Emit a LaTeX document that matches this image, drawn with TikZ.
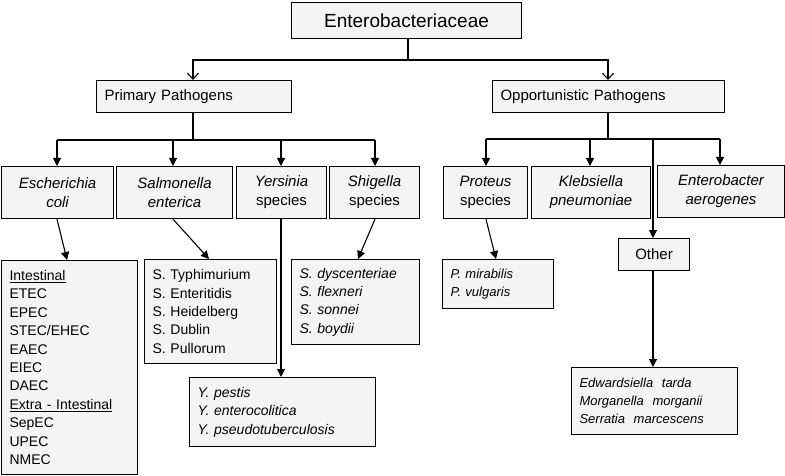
\documentclass[tikz,border=0pt]{standalone}
\usepackage{fontspec}
\setmainfont{Liberation Sans}
\usetikzlibrary{arrows.meta}
\begin{document}
\begin{tikzpicture}[x=1pt,y=-1pt,
  bx/.style={draw=black,line width=1.1pt,fill=gray!9,inner sep=0pt,anchor=north west,font=\fontsize{15}{19}\selectfont,align=center},
  lst/.style={bx,align=left,font=\fontsize{14}{18.4}\selectfont},
  fa/.style={-{Triangle[length=8pt,width=8pt]},line width=1.1pt},
  oa/.style={-{Straight Barb[length=6pt,width=11pt]},line width=1.1pt}]
\useasboundingbox (0,0) rectangle (785,476);
\newcommand{\bxat}[6]{\node[#1,minimum width=#4-#2,minimum height=#5-#3,text width=#4-#2-16] (#6) at (#2,#3) {};}
% main boxes
\node[bx,minimum width=230,minimum height=36,font=\fontsize{19}{22}\selectfont] (ent) at (291,2) {Enterobacteriaceae};
\node[bx,minimum width=195,minimum height=32,text width=179,align=left] (pp) at (96,80) {Primary Pathogens};
\node[bx,minimum width=232,minimum height=32,text width=216,align=left] (op) at (492,80) {Opportunistic Pathogens};
% second row
\node[bx,minimum width=112,minimum height=52] (ec) at (1,166) {\itshape Escherichia\\\itshape coli};
\node[bx,minimum width=116,minimum height=52] (sa) at (116,166) {\itshape Salmonella\\\itshape enterica};
\node[bx,minimum width=90,minimum height=52] (ye) at (236,166) {\itshape Yersinia\\species};
\node[bx,minimum width=90,minimum height=52] (sh) at (329,166) {\itshape Shigella\\species};
\node[bx,minimum width=84,minimum height=52] (pr) at (443,166) {\itshape Proteus\\species};
\node[bx,minimum width=119,minimum height=52] (kl) at (531,166) {\itshape Klebsiella\\\itshape pneumoniae};
\node[bx,minimum width=127,minimum height=52] (en) at (657,165) {\itshape Enterobacter\\\itshape aerogenes};
\node[bx,minimum width=71,minimum height=32] (ot) at (618,238) {Other};
% lists
\node[lst,minimum width=132,minimum height=214,text width=120,inner xsep=8pt] (ecl) at (1,260) {\underline{Intestinal}\\ETEC\\EPEC\\STEC/EHEC\\EAEC\\EIEC\\DAEC\\\underline{Extra - Intestinal}\\SepEC\\UPEC\\NMEC};
\node[lst,minimum width=130,minimum height=104,text width=116,inner xsep=8pt] (sal) at (144,259) {S. Typhimurium\\S. Enteritidis\\S. Heidelberg\\S. Dublin\\S. Pullorum};
\node[lst,minimum width=185,minimum height=69,text width=170,inner xsep=8pt,font=\fontsize{14}{18.4}\selectfont\itshape] (yel) at (189,377) {Y. pestis\\Y. enterocolitica\\Y. pseudotuberculosis};
\node[lst,minimum width=123,minimum height=85,text width=112,inner xsep=8pt,font=\fontsize{14}{18.4}\selectfont\itshape] (shl) at (291,259) {S. dyscenteriae\\S. flexneri\\S. sonnei\\S. boydii};
\node[lst,minimum width=107,minimum height=49,text width=95,inner xsep=8pt,font=\fontsize{13}{18}\selectfont\itshape] (prl) at (442,259) {P. mirabilis\\P. vulgaris};
\node[lst,minimum width=164,minimum height=67,text width=150,inner xsep=8pt,font=\fontsize{13}{18}\selectfont\itshape] (otl) at (571,367) {Edwardsiella\ \ tarda\\Morganella\ \ morganii\\Serratia\ \ marcescens};
% connectors
\coordinate (t1) at (193,60); \coordinate (t2) at (608,60);
\draw[line width=1.1pt] (ent.south -| 408,0) -- (408,60);
\draw[oa] (408,60) -- (t1) -- (pp.north -| t1);
\draw[oa] (408,60) -- (t2) -- (op.north -| t2);
\draw[line width=1.1pt] (pp.south -| 193,0) -- (193,140) (57,140) -- (375,140);
\draw[fa] (57,140) -- (ec.north -| 57,0);
\draw[fa] (173,140) -- (sa.north -| 173,0);
\draw[fa] (281,140) -- (ye.north -| 281,0);
\draw[fa] (375,140) -- (sh.north -| 375,0);
\draw[line width=1.1pt] (op.south -| 608,0) -- (608,139) (486,139) -- (720,139);
\draw[fa] (486,139) -- (pr.north -| 486,0);
\draw[fa] (590,139) -- (kl.north -| 590,0);
\draw[fa] (720,139) -- (en.north -| 720,0);
\draw[fa] (653,139) -- (ot.north -| 653,0);
\draw[fa] (ec.south -| 57,0) -- (67,260);
\draw[fa] (sa.south -| 173,0) -- (209,259);
\draw[fa] (ye.south -| 281,0) -- (yel.north -| 281,0);
\draw[fa] (sh.south -| 375,0) -- (358,259);
\draw[fa] (pr.south -| 486,0) -- (496,259);
\draw[fa] (ot.south -| 653,0) -- (otl.north -| 653,0);
\end{tikzpicture}
\end{document}
